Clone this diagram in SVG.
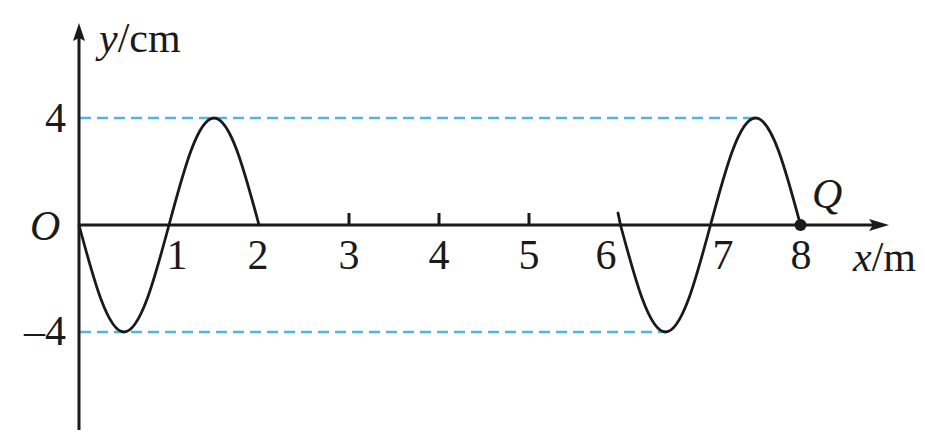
<svg xmlns="http://www.w3.org/2000/svg" width="925" height="433" viewBox="0 0 925 433">
<style>
.ax{stroke:#1a1a1a;stroke-width:3;fill:none}
.wave{stroke:#1a1a1a;stroke-width:2.8;fill:none;stroke-linecap:round}
.dash{stroke:#4cb8dc;stroke-width:2.6;stroke-dasharray:11 6;fill:none}
.t{font-family:"Liberation Serif","Times New Roman",serif;font-size:42px;fill:#1a1a1a}
.i{font-style:italic}
</style>
<rect width="925" height="433" fill="#ffffff"/>
<g id="guides">
<line class="dash" x1="80" y1="118" x2="755" y2="118"/>
<line class="dash" x1="80" y1="332" x2="665" y2="332"/>
</g>
<g id="axes">
<line class="ax" x1="79" y1="430" x2="79" y2="36"/>
<polygon points="79,23 73,41 79,38 85,41" fill="#1a1a1a"/>
<line class="ax" x1="79" y1="225" x2="875" y2="225"/>
<polygon points="889,225 869,219 873,225 869,231" fill="#1a1a1a"/>
<line class="ax" x1="349" y1="213" x2="349" y2="225"/>
<line class="ax" x1="439" y1="213" x2="439" y2="225"/>
<line class="ax" x1="529" y1="213" x2="529" y2="225"/>
</g>
<g id="labels">
<text class="t" x="99" y="52"><tspan class="i">y</tspan>/cm</text>
<text class="t" x="66" y="132" text-anchor="end">4</text>
<text class="t" x="66" y="345" text-anchor="end">–4</text>
<text class="t i" x="30" y="240">O</text>
<text class="t" x="177" y="269" text-anchor="middle">1</text>
<text class="t" x="258" y="269" text-anchor="middle">2</text>
<text class="t" x="349" y="269" text-anchor="middle">3</text>
<text class="t" x="439" y="269" text-anchor="middle">4</text>
<text class="t" x="529" y="269" text-anchor="middle">5</text>
<text class="t" x="606" y="269" text-anchor="middle">6</text>
<text class="t" x="723" y="269" text-anchor="middle">7</text>
<text class="t" x="801" y="269" text-anchor="middle">8</text>
<text class="t" x="853" y="271"><tspan class="i">x</tspan>/m</text>
<text class="t i" x="812" y="208">Q</text>
</g>
<g id="wave1">
<path class="wave" d="M79,225 C93.68,279.81 107.71,332 124,332 C140.29,332 154.32,279.81 169,225 C183.68,170.19 197.71,118 214,118 C230.29,118 244.32,170.19 259,225"/>
</g>
<g id="wave2">
<path class="wave" d="M618,213 L620.5,225 C635.18,279.81 649.21,332 665.5,332 C681.79,332 695.82,279.81 710.5,225 C725.18,170.19 739.21,118 755.5,118 C771.79,118 785.82,170.19 800.5,225"/>
</g>
<g id="Q">
<circle cx="800.5" cy="225" r="6" fill="#1a1a1a"/>
</g>
</svg>
